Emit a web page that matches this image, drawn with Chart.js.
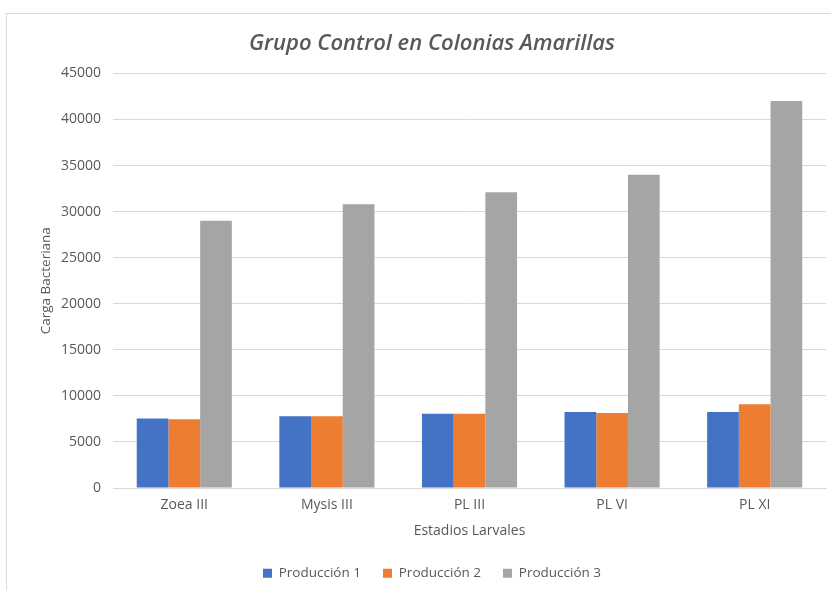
<!DOCTYPE html>
<html>
<head>
<meta charset="utf-8">
<script src="https://cdn.jsdelivr.net/npm/chart.js@4.4.1/dist/chart.umd.min.js"></script>
<style>
  html, body { margin: 0; padding: 0; background: #ffffff; }
  #wrap { width: 831px; height: 590px; position: relative; }
</style>
</head>
<body>
<div id="wrap"><canvas id="c" width="831" height="590"></canvas></div>
<script>
// Larval stages and bacterial load per production run
const stages = ['Zoea III', 'Mysis III', 'PL III', 'PL VI', 'PL XI'];
const produccion1 = [7550, 7800, 8050, 8250, 8250];
const produccion2 = [7450, 7800, 8050, 8150, 9100];
const produccion3 = [29000, 30800, 32100, 34000, 42000];
const seriesNames = ['Producción 1', 'Producción 2', 'Producción 3'];
const seriesColors = ['#4472C4', '#ED7D31', '#A5A5A5'];

const FONT = '"Open Sans", "DejaVu Sans", sans-serif';
const TEXT = '#595959';
const GRID = '#d9d9d9';

// Light frame around the chart area
const framePlugin = {
  id: 'frame',
  beforeDraw(chart) {
    const ctx = chart.ctx;
    ctx.save();
    ctx.fillStyle = '#ffffff';
    ctx.fillRect(0, 0, chart.width, chart.height);
    ctx.strokeStyle = GRID;
    ctx.lineWidth = 1;
    ctx.strokeRect(6.5, 13.5, 900, 700);
    ctx.restore();
  }
};

const PAD_LEFT = 38;

new Chart(document.getElementById('c'), {
  type: 'bar',
  data: {
    labels: stages,
    datasets: [produccion1, produccion2, produccion3].map((d, i) => ({
      label: seriesNames[i],
      data: d,
      backgroundColor: seriesColors[i],
      borderWidth: 0,
      categoryPercentage: 0.667,
      barPercentage: 1.0
    }))
  },
  options: {
    responsive: false,
    animation: false,
    devicePixelRatio: 1,
    layout: { padding: { left: PAD_LEFT, right: 5, top: 13, bottom: 0 } },
    plugins: {
      title: {
        display: true,
        text: 'Grupo Control en Colonias Amarillas',
        color: TEXT,
        font: { family: FONT, size: 22, style: 'italic', weight: '600' },
        padding: { top: 18, bottom: 16 }
      },
      legend: {
        position: 'bottom',
        labels: {
          color: TEXT,
          font: { family: FONT, size: 13.5 },
          boxWidth: 9,
          boxHeight: 9,
          padding: 22
        }
      },
      tooltip: { enabled: false }
    },
    scales: {
      x: {
        grid: { display: false, drawTicks: false },
        border: { color: GRID, width: 1 },
        ticks: { color: TEXT, font: { family: FONT, size: 14 }, padding: 9 },
        title: {
          display: true,
          text: 'Estadios Larvales',
          color: TEXT,
          font: { family: FONT, size: 14 },
          padding: { top: 6, bottom: 5 }
        },
        afterFit(scale) { scale.height = 56.5; }
      },
      y: {
        min: 0,
        max: 45000,
        ticks: {
          stepSize: 5000,
          color: TEXT,
          font: { family: FONT, size: 14 },
          padding: 12,
          callback: (v) => String(v)
        },
        grid: { color: GRID, lineWidth: 1, drawTicks: false },
        border: { display: false },
        title: {
          display: true,
          text: 'Carga Bacteriana',
          color: TEXT,
          font: { family: FONT, size: 13.5 },
          padding: { top: 0, bottom: 0 }
        },
        afterFit(scale) { scale.width = 113 - PAD_LEFT; }
      }
    }
  },
  plugins: [framePlugin]
});
</script>
</body>
</html>
